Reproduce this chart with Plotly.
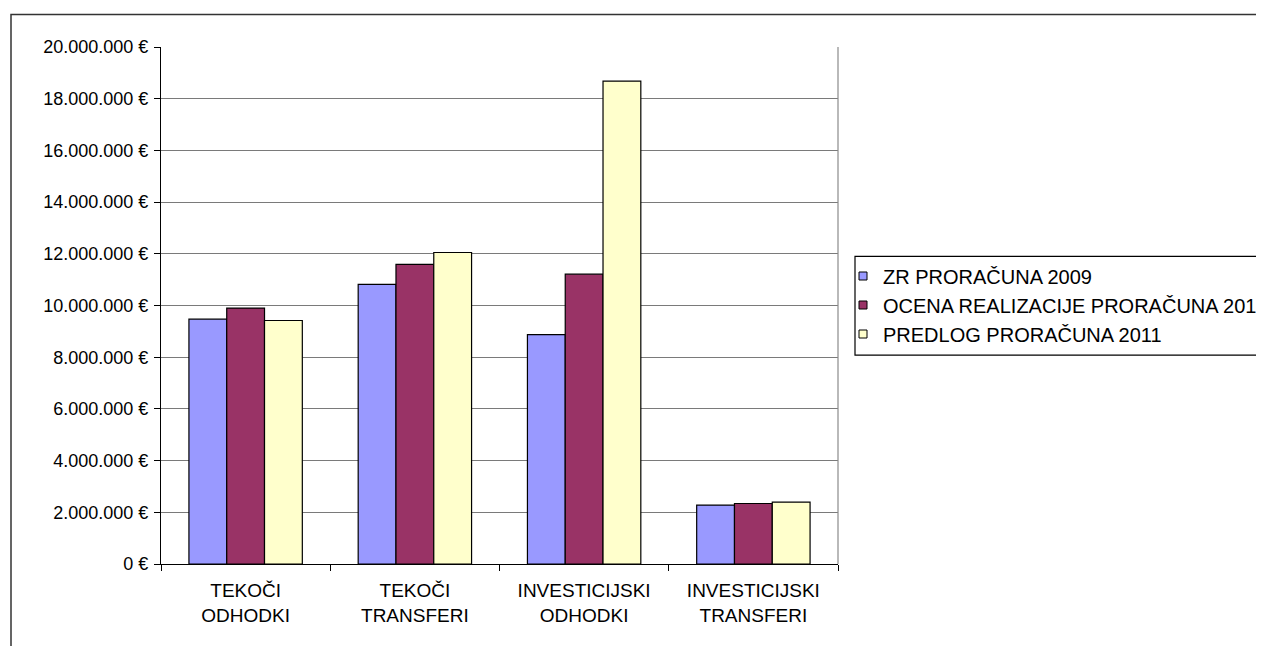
import plotly.graph_objects as go

categories = ["TEKOČI<br>ODHODKI", "TEKOČI<br>TRANSFERI", "INVESTICIJSKI<br>ODHODKI", "INVESTICIJSKI<br>TRANSFERI"]
series_names = ["ZR PRORAČUNA 2009", "OCENA REALIZACIJE PRORAČUNA 2010", "PREDLOG PRORAČUNA 2011"]
zr_2009 = [9470000, 10820000, 8870000, 2280000]
ocena_2010 = [9900000, 11590000, 11210000, 2340000]
predlog_2011 = [9420000, 12050000, 18680000, 2390000]
colors = ["#9999FF", "#993366", "#FFFFCC"]
tick_vals = [0, 2000000, 4000000, 6000000, 8000000, 10000000, 12000000, 14000000, 16000000, 18000000, 20000000]
tick_text = ["0 €", "2.000.000 €", "4.000.000 €", "6.000.000 €", "8.000.000 €", "10.000.000 €",
             "12.000.000 €", "14.000.000 €", "16.000.000 €", "18.000.000 €", "20.000.000 €"]

FONT = "Liberation Sans, Arial, sans-serif"

fig = go.Figure()
for name, vals, col in zip(series_names, [zr_2009, ocena_2010, predlog_2011], colors):
    fig.add_trace(go.Bar(
        x=categories, y=vals, name=name, showlegend=False,
        marker=dict(color=col, line=dict(color="#000000", width=1.2)),
    ))
# legend entries with small square keys
for name, col in zip(series_names, colors):
    fig.add_trace(go.Scatter(
        x=[None], y=[None], mode="markers", name=name, legendgroup=name,
        marker=dict(symbol="square", size=8, color=col, line=dict(color="#000000", width=1)),
    ))

W, H = 1256, 638
L, R, T, B = 153, 830, 38.5, 556
pw, ph = R - L, B - T

fig.update_layout(
    width=W, height=H,
    margin=dict(l=L, r=W - R, t=T, b=H - B, pad=0, autoexpand=False),
    paper_bgcolor="white", plot_bgcolor="white",
    barmode="group", bargap=0.33, bargroupgap=0,
    font=dict(family=FONT, size=18, color="#000000"),
    showlegend=True,
    legend=dict(
        xref="container", yref="container",
        x=835 / W, y=(H - 248.5) / H, xanchor="left", yanchor="top",
        bgcolor="rgba(0,0,0,0)", borderwidth=0,
        font=dict(family=FONT, size=20, color="#000000"),
        itemwidth=30, tracegroupgap=0, traceorder="normal",
    ),
    xaxis=dict(
        showline=True, linecolor="#000000", linewidth=1.2,
        ticks="outside", tickson="boundaries", ticklen=6, tickcolor="#000000",
        showgrid=False, tickfont=dict(family=FONT, size=19),
        ticklabelstandoff=9, fixedrange=True,
    ),
    yaxis=dict(
        range=[0, 20000000], tickvals=tick_vals, ticktext=tick_text,
        showline=True, linecolor="#000000", linewidth=1.2,
        ticks="outside", ticklen=6, tickcolor="#000000",
        showgrid=True, gridcolor="#7a7a7a", gridwidth=1,
        zeroline=False, ticklabelstandoff=2,
        tickfont=dict(family=FONT, size=18), fixedrange=True,
    ),
    shapes=[
        dict(type="line", xref="paper", yref="paper", x0=1, x1=1, y0=0, y1=1,
             line=dict(color="#8a8a8a", width=1.2)),
        dict(type="rect", xref="paper", yref="paper",
             x0=(3 - L) / pw, x1=3, y0=-2, y1=(B - 6) / ph,
             line=dict(color="#333333", width=1.5), fillcolor="rgba(0,0,0,0)", layer="below"),
        dict(type="rect", xref="paper", yref="paper",
             x0=(847 - L) / pw, x1=3, y0=(B - 347) / ph, y1=(B - 248) / ph,
             line=dict(color="#000000", width=1.2), fillcolor="white", layer="below"),
    ],
)

fig.write_html("out.html")
